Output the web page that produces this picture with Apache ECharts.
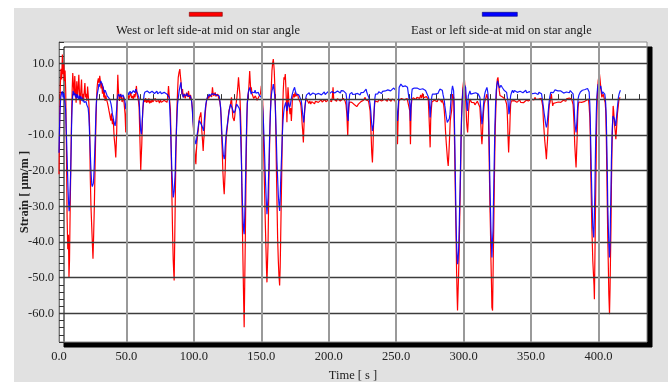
<!DOCTYPE html>
<html>
<head>
<meta charset="utf-8">
<title>Strain at mid on star angle</title>
<script src="https://cdn.jsdelivr.net/npm/echarts@6/dist/echarts.min.js"></script>
<style>
  html, body { margin: 0; padding: 0; background: #ffffff; }
  #chart { width: 668px; height: 382px; }
</style>
</head>
<body>
<div id="chart"></div>
<script>
// Series labels
const seriesNames = ['West or left side-at mid on star angle', 'East or left side-at mid on star angle'];
const seriesColors = ['#ff0000', '#0000ff'];

// Axis ranges and tick label values
const timeRange = [0, 436];
const strainRange = [-68, 16];
const timeLabelValues = [0, 50, 100, 150, 200, 250, 300, 350, 400];
const strainLabelValues = [10, 0, -10, -20, -30, -40, -50, -60];

// West side strain [time s, strain µm/m]
const westStrain = [
[0,-21],[0.5,-6],[1,4],[1.5,8.5],[2,5.5],[2.5,12.5],[3,7],[3.5,10],[4,5],[4.5,8],[5,2],[5.5,-14],[6,-33],[6.5,-42],[7,-38],[7.4,-49.8],[7.8,-45],[8.3,-30],[8.8,-18],[9.3,-5],[9.8,3],[10.2,7.3],[10.7,4],[11.2,1],[11.7,6.5],[12.2,2],[12.7,-1],[13.2,5],[13.7,0.5],[14.2,3],[14.7,6.8],[15.2,1.5],[15.7,-1.5],[16.2,2.5],[16.7,5.5],[17.2,0],[17.7,1.5],[18.2,-0.5],[18.7,2],[19.2,4.5],[19.7,0.5],[20.2,1.5],[20.7,-0.5],[21.2,3.5],[21.7,1],[22.2,-1.5],[22.7,-8],[23.2,-22],[23.7,-30],[24.2,-35],[24.7,-40],[25.2,-44.7],[25.7,-38],[26.2,-30],[26.7,-20],[27.2,-10],[27.7,-2],[28.2,3],[28.7,5],[29.2,5.8],[29.7,4.5],
[30.2,6.5],[30.7,5],[31.2,3],[31.7,4.5],[32.2,1.5],[32.7,3.5],[33.2,0.5],[33.7,2],[34.2,-0.5],[34.7,1],[35.2,0],[35.9,-1],[36.5,-2],[37.1,-3.3],[37.7,-4.5],[38.4,-6],[39,-4],[39.6,-7],[40.2,-5.5],[40.9,-10.7],[41.5,-13],[42.1,-16.3],[42.8,-9],[43.2,1],[43.6,6.8],[44,3],[44.3,1.4],[44.8,-0.5],[45.3,0],[45.8,1.5],[46.3,1],[46.8,-0.8],[47.3,-0.5],[47.8,0.8],[48.3,0.5],[49,-4.2],[49.5,-9.3],[49.9,-4],[50.2,-1.4],[50.7,0.5],[51.2,1.4],[51.7,0],[52.2,0.5],[52.7,-0.5],[53.2,1.8],[53.8,0.3],[54.5,0.9],[55.1,-0.2],[55.7,1.4],[56.3,0.5],[56.9,1.8],[57.4,3.7],[57.9,1.2],[58.4,0.9],[58.9,-0.5],[59.4,-2.3],[59.8,-8],[60.1,-12.5],[60.6,-20],[61,-16],[61.4,-12.5],[61.8,-6],[62.1,-3.3],[62.6,-1],[63.1,0],[63.6,-0.8],[64.2,0.3],[64.8,-1],[65.4,-0.3],[66,-0.9],[66.6,0.2],[67.2,-1.2],[67.8,-0.4],[68.4,-1],[69,0],[69.6,-0.8],[70.2,-0.3],[70.8,-1.1],[71.4,0.2],[72,-0.7],[72.6,-0.2],[73.2,-1],
[73.8,-0.4],[74.5,-1.1],[75.2,-0.2],[75.9,-0.9],[76.6,-0.4],[77.3,-1.2],[78,-0.3],[78.7,-0.8],[79.4,-0.1],[80.1,-0.9],[80.7,0.8],[81.2,3.7],[81.7,1],[82.2,0.5],[82.6,-3],[82.9,-8],[83.3,-17],[83.7,-26.6],[84.2,-37],[84.7,-45.2],[85.1,-48.5],[85.4,-50.8],[85.9,-37],[86.3,-26],[86.6,-17.3],[87,-9],[87.4,-3.3],[87.9,2],[88.4,6],[89,7.5],[89.6,8.4],[90,6.5],[90.4,5.1],[91.1,1.4],[91.6,2.8],[92.1,0.5],[92.6,1.5],[93.1,1.9],[93.6,0.2],[94.1,0.5],[94.6,1.8],[95.1,1.4],[95.6,0.6],[96,2.3],[96.5,1],[97,0],[97.5,1.2],[98,0.9],[98.5,-1],[99,-3.3],[99.5,-6.5],[100,-10.7],[100.5,-14],[101,-16.3],[101.5,-18.2],[101.8,-15],[102.2,-12.6],[102.7,-10],[103.2,-8.9],[103.7,-6.5],[104.2,-5.1],[104.7,-4.5],[105.2,-3.7],[105.6,-6],[105.9,-8.9],[106.4,-11.5],[106.9,-14.5],[107.3,-11.5],[107.7,-9.8],[108,-7],[108.4,-4.2],[108.9,-2],[109.4,-0.5],[109.9,0.3],[110.4,0.9],[110.9,0.2],[111.4,0.5],[112,1.2],[112.6,1.4],[113.2,0.6],[113.8,3.3],[114.3,1.5],[114.8,0.9],[115.3,1.2],[115.8,1.9],[116.3,0.8],[116.8,0.5],[117.3,1.3],[117.8,1.4],[118.3,0.4],[118.8,0.5],[119.3,-0.8],[119.8,-2.3],[120.2,-5],[120.5,-8.9],[121,-14],[121.5,-20.1],[122,-24],[122.5,-26.6],[122.9,-23],[123.2,-20.1],[123.6,-15],[124,-10.7],[124.5,-9],[125,-7],[125.5,-5],[126,-3.3],[126.5,-2.5],[127,-1.9],[127.5,-0.5],[127.9,0.5],[128.4,-2.5],[128.9,-5.1],[129.4,-5.5],[129.9,-6.1],[130.4,-4.5],[130.9,-2.3],[131.4,-1],[131.9,0.5],[132.5,3],[133.1,6.1],[133.6,3.5],[134.1,1.4],[134.5,-3],[134.9,-7.9],[135.3,-16],[135.6,-26.6],[136,-36],[136.4,-45.2],[136.9,-56],[137.3,-63.9],[137.7,-52],[138.1,-40.6],[138.5,-28],[138.8,-17.3],[139.2,-8],[139.6,-1.4],[140.1,1],[140.6,2.3],[141,5],[141.4,7.9],[141.8,5],[142.2,2.5],[142.6,3.3],[143.1,1.5],
[143.8,1.4],[144.4,0.2],[145,0],[145.6,0.9],[146.3,0.9],[146.9,-0.3],[147.5,-0.5],[148.1,0.6],[148.8,0.5],[149.4,1.5],[150,3.7],[150.5,1.2],[151,-0.5],[151.4,-5],[151.7,-12.6],[152.1,-20],[152.5,-26.6],[153,-35],[153.5,-42.4],[153.9,-48],[154.2,-51.3],[154.6,-46],[155,-40.6],[155.4,-30],[155.7,-21.9],[156.1,-14],[156.4,-7.9],[156.8,-3],[157.2,1.4],[157.6,5],[157.9,7.9],[158.4,10],[158.9,11.2],[159.3,9.5],[159.6,7.9],[160,4],[160.4,-1.4],[160.8,-9],[161.1,-17.3],[161.6,-28],[162.1,-38.7],[162.6,-45],[163.1,-49.5],[163.6,-52.2],[164,-47],[164.3,-40.6],[164.7,-31],[165.1,-21.9],[165.5,-12],[165.8,-3.3],[166.3,2.5],[166.8,6.1],[167.3,5.5],[167.8,7],[168.2,3.5],[168.5,0.5],[169,-6.5],[169.4,-1],[169.8,3.3],[170.2,1],[170.5,-1.4],[170.9,-3],[171.3,-4.2],[171.8,-2.5],[172.3,-6.1],[172.7,-3],[173,-0.5],[173.5,0.8],[174,1.4],[174.5,0.5],[175,1.9],[175.5,0.8],[176,0.5],[176.5,1.2],[177,1.4],[177.5,0.2],[177.9,0],[178.4,-0.2],[178.9,-0.9],[179.4,-1.8],[179.9,-4.2],[180.3,-7],[180.7,-8.9],[181.2,-12.1],[181.5,-9],[181.9,-5.1],[182.4,-2],[182.9,-0.5],[183.4,0.2],[183.9,0.5],
[184.6,-0.3],[185.3,-1.2],[186,-0.5],[186.7,-1.4],[187.4,-0.7],[188.1,-1],[188.8,-0.2],[189.5,-1.3],[190.2,-0.6],[190.9,-1.1],[191.6,-0.3],[192.3,-0.9],[193,-0.5],[193.7,-1.2],[194.4,-0.2],[195.1,-0.8],[195.8,-0.4],[196.5,-1],[197.2,-0.1],[197.9,-0.7],[198.6,-0.3],[199.3,-0.9],[200,-0.2],[200.7,-0.6],[201.4,0.1],[202.1,-0.7],[202.7,0.5],[203.2,3.3],[203.7,0],[204.4,-0.5],[205.1,0],[205.8,-0.6],[206.5,0.1],[207.2,-0.4],[207.9,0.2],[208.6,-0.5],[209.3,-0.1],[210,-0.4],[210.7,0.2],[211.4,-0.3],[212.1,-0.5],[212.8,-1.5],[213.4,-4],[214.1,-10.3],[214.5,-5],[214.9,-2.3],[215.4,-0.8],[215.9,-0.5],
[216.5,-0.9],[217.1,-0.9],[217.7,-1.3],[218.3,-1.4],[218.9,-1.5],[219.6,-1.9],[220.2,-1.6],[220.8,-2.1],[221.4,-1.7],[222,-1.4],[222.7,-1.2],[223.3,-0.9],[223.9,-0.7],[224.5,-0.5],[225.2,-0.6],[225.8,-0.3],[226.4,0.2],[227,0.5],[227.6,-0.2],[228.2,0],[228.9,-0.4],[229.5,-0.5],[230.1,-1],[230.7,-3.3],[231.1,-7],[231.5,-10.7],[231.9,-15],[232.4,-17.7],[232.9,-12.6],[233.3,-6],[233.7,-3.3],[234.1,-1.2],[234.4,-0.5],[235,-0.5],[235.7,-0.2],[236.4,-0.8],[237.1,-0.1],[237.8,-0.6],[238.5,0.1],[239.2,-0.5],[239.9,-0.2],[240.6,-0.7],[241.3,0],[242,-0.4],[242.7,-0.1],[243.4,-0.6],[244.1,0.1],[244.8,-0.3],[245.5,-0.2],[246.2,-0.6],[246.9,0],[247.6,-0.4],[248.3,-0.1],[249,-0.3],[249.6,-0.3],[250.1,-1.5],[250.5,-5],[251,-12.6],[251.5,-5],[252,-0.5],[252.5,0],[253.2,-0.2],[253.9,0.2],[254.6,-0.3],[255.3,0.1],[256,-0.2],[256.7,0.2],[257.4,-0.1],[258.1,0.2],[258.8,-0.3],[259.5,0],[260.1,-3.3],[260.6,-12.6],[261.1,-2.3],[261.6,-0.3],[261.9,0],[262.6,0.4],[263.3,0.2],[264,0.6],[264.7,-0.1],[265.4,0.5],[266.1,0.1],[266.8,0.8],[267.5,0.2],[268.2,1.2],[268.9,0.3],[269.6,1.6],[270.3,0.4],[271,0.9],[271.7,0.2],[272.4,0.7],[273.1,0.3],[273.8,0],[274.2,-3.3],[274.7,-8],[275.2,-13.5],[275.6,-6],[276,-3.3],[276.5,-0.8],[276.9,-0.3],[277.6,-0.6],[278.3,-0.3],[279,-0.5],[279.7,-0.2],[280.4,-0.7],
[281.2,0],[282,-0.4],[282.8,-0.2],[283.7,-0.9],[284.2,-0.3],[284.7,-0.5],[285.2,-1.5],[285.7,-3.3],[286.2,-6],[286.6,-8.9],[287.1,-12],[287.6,-14.5],[288.1,-17],[288.6,-18.7],[289,-16],[289.4,-12.6],[289.8,-9],[290.1,-6.1],[290.6,-4.5],[291.1,-3.3],[291.5,-1],[291.8,1.4],[292.2,1],[292.6,0.5],[293,-6],[293.3,-12.6],[293.7,-22],[294.1,-31.3],[294.5,-40],[294.8,-48],[295.2,-55],[295.5,-59.2],[295.9,-54],[296.3,-49],[296.7,-43],[297,-35.9],[297.4,-28],[297.8,-20.1],[298.1,-13],[298.5,-5.1],[299,0],[299.5,3.3],[300,5],[300.5,6.1],[301,3.5],[301.5,0.5],[301.9,-3],[302.2,-6.1],[302.6,-8],[303,-9.3],[303.4,-6.5],[303.7,-3.3],[304.2,-1.2],[304.7,0],[305.3,-0.5],[305.9,-0.9],[306.5,-1.3],[307.2,-1.4],[307.8,-1],[308.4,-1.6],[309,-1.1],[309.6,-1.2],[310.2,-0.6],[310.9,-0.7],[311.5,-1],[312.1,-2.3],[312.5,-5],[312.9,-7.9],[313.3,-11],[313.6,-12.6],[314,-10],[314.3,-7],[314.8,-3.5],[315.3,-1.4],[315.8,-0.6],[316.3,0],[316.8,0.8],[317.3,1.4],[317.7,0.5],[318.1,-0.5],[318.5,-6],[318.8,-12.6],[319.2,-22],[319.5,-29.4],[319.9,-36],[320.3,-45.2],[320.7,-52],[321,-58.3],[321.5,-59.2],[322,-45.2],[322.4,-35],[322.8,-23.8],[323.1,-16],[323.5,-7.9],[324,-2],[324.5,3.3],[325,5.5],[325.5,6.1],[326,4],[326.5,2.3],[327,1],[327.5,0.5],[328,1.2],[328.4,1.4],[328.9,0.6],[329.4,0.5],[330,0.1],[330.7,0],[331.3,-0.6],[331.9,-1.4],[332.3,-3],[332.7,-7],[333,-11],[333.4,-14.9],[333.8,-11],[334.2,-8.9],[334.5,-5],[334.9,-1.4],[335.5,-0.5],[336.1,-0.3],[336.8,-0.8],[337.5,-0.4],[338.1,-0.7],[338.8,-0.3],[339.5,-0.9],[340.2,-0.4],[340.9,-0.7],[341.6,-0.2],[342.3,-0.9],[343,-0.9],[343.7,-0.5],[344.4,-1],[345.1,-0.6],[345.8,-0.8],[346.5,-0.3],[347.2,-0.7],[348,-0.5],[348.7,-0.2],[349.4,-0.6],[350.1,0],[350.8,-0.3],[351.5,0.3],[352.2,-0.2],[352.9,0.5],[353.6,-0.1],[354.3,0.2],[355,-0.3],
[355.7,0],[356.3,-0.3],[357,0.5],[357.6,0.2],[358.2,-0.9],[358.7,-2],[359.2,-6.1],[359.7,-9],[360.2,-11.7],[360.8,-14],[361.4,-16.8],[361.8,-14],[362.2,-11.7],[362.7,-7],[363.2,-3.3],[363.6,-1.5],[364.1,-0.9],[364.6,0.5],[365.1,1.4],[365.6,-0.5],[366.1,-1.9],[366.6,-1.2],[367.1,-0.9],[367.7,-1.4],[368.3,-1],[368.9,-1.5],[369.6,-1.2],[370.2,-0.8],[370.8,-1.3],[371.5,-0.7],[372.1,-0.9],[372.7,-0.4],[373.3,-0.9],[373.9,-0.3],[374.5,-0.5],[375.1,-0.2],[375.8,-0.6],[376.4,0.1],[377,0],[377.6,-0.3],[378.3,0.3],[378.9,0],[379.5,0.5],[380.1,0],[380.7,0],[381.2,-1.5],[381.7,-5.1],[382.1,-9],[382.4,-12.6],[382.9,-16],[383.4,-19.1],[383.8,-15],[384.2,-10.7],[384.6,-5],[384.9,-2.3],[385.4,-0.8],[385.9,-0.5],[386.6,-1],[387.4,-0.9],[388.1,-0.5],[388.8,-1.1],[389.4,-0.7],[390.1,-0.4],[390.7,-0.8],[391.1,-0.3],[391.9,-0.1],[392.6,0],[393.1,-2],[393.6,-5.1],[394,-11],[394.3,-20.1],[394.7,-28],[395.1,-35.9],[395.5,-41],[395.8,-45.2],[396.3,-49],[396.7,-52],[397,-56],[397.5,-40.6],[397.9,-28],[398.3,-17.3],[398.6,-8],[399,-1.4],[399.4,3],[399.8,5.1],[400.2,6],[400.7,7.2],[401.2,5.5],[401.7,3.3],[402.1,1.8],[402.5,0.5],[403,0.9],[403.5,1.4],[404,0.6],[404.5,0.9],[405,-1],[405.4,-3.3],[405.8,-10],[406.2,-20.1],[406.5,-28],[406.9,-38.7],[407.3,-46],[407.7,-54.6],[408.2,-60.2],[408.6,-53],[408.9,-45.2],[409.3,-36],[409.6,-24.7],[410,-15],[410.4,-7.9],[410.9,-1.9],[411.2,-3],[411.6,-5.1],[412,-7.5],[412.4,-8.9],[412.9,-11.2],[413.3,-9],[413.6,-7],[414.1,-4],[414.6,-2.3],[415,-0.8],[415.3,0],[416.1,0.5]
];

// East side strain [time s, strain µm/m]
const eastStrain = [
[0,-15],[0.4,-8],[0.8,-3],[1.3,0.5],[1.8,1.5],[2.5,2.2],[3,0.5],[3.5,1.7],[4,0.2],[4.5,-1.1],[4.9,-3],[5.2,-6.7],[5.6,-11],[6,-16],[6.3,-20],[6.7,-25.3],[7.1,-29],[7.5,-31.4],[7.9,-30],[8.2,-26.3],[8.6,-21],[9,-14],[9.3,-8],[9.7,-2.4],[10.1,0.5],[10.5,2.3],[10.9,1.2],[11.2,0.9],[11.7,1.8],[12.2,0.5],[12.7,1.4],[13.2,0.2],[13.7,1.3],[14.2,0.9],[14.7,-0.2],[15.2,1],[15.7,0.1],[16.2,0.8],[16.7,-0.4],[17.2,0.4],[17.7,-0.6],[18.1,0.1],[18.6,-0.9],[19.1,-0.5],[19.6,-1.2],[20.1,-0.7],[20.6,-1.6],[21.1,-1.5],[21.6,-2.5],[22.1,-4.5],[22.5,-8],[22.8,-11.2],[23.2,-15],[23.6,-19],[24,-22],[24.3,-23.9],[24.7,-24.5],[25.1,-24.9],[25.5,-23.5],[25.8,-21.5],[26.2,-18],[26.6,-13.5],[27,-9],[27.3,-4.5],[27.7,-1],[28,0.5],[28.4,1.5],[28.8,2.3],[29.2,3],[29.5,4.2],
[30,3.5],[30.5,4.5],[31,5.1],[31.4,4.6],[31.7,5.6],[32.2,4],[32.7,3.3],[33.2,2.6],[33.7,1.9],[34.2,2.5],[34.7,2.3],[35.2,1.5],[35.7,0.9],[36.2,1.3],[36.6,0.5],[37.1,0.7],[37.6,0],[38.1,-0.5],[38.6,-1.4],[39.1,-2.5],[39.6,-4.2],[40.1,-5],[40.6,-6.1],[41.1,-6.8],[41.6,-7.5],[42,-6.5],[42.3,-5.1],[42.7,-3],[43.1,-0.5],[43.6,0.8],[44.1,1.4],[44.6,0.9],[45.1,0.7],[45.6,1.4],[46,1.4],[46.5,0.6],[47,0.5],[47.5,1.2],[48,0.9],[48.4,0.2],[48.8,-0.5],[49.2,-1.8],[49.5,-2.8],[49.9,-1.5],[50.2,-0.5],[50.7,1.2],[51.2,1.9],[51.7,1.2],[52.2,1.4],[52.7,2.2],[53.2,2.3],[53.8,1.6],[54.5,1.9],[55.1,2.4],[55.7,2.1],[56.3,1.8],[56.9,2.8],[57.5,2.2],[58.2,1.6],[58.7,1.2],[59.2,0.5],[59.6,-1.5],[59.9,-4.2],[60.3,-7],[60.6,-8.9],[61.1,-9.8],[61.5,-8],[61.9,-5.1],[62.2,-2.5],[62.6,-0.5],[63.1,1.2],[63.6,1.9],[64.2,2.2],[64.8,1.6],[65.4,2.3],[66,1.8],[66.6,2.4],[67.2,1.7],[67.8,2.1],[68.4,1.5],[69,2.2],[69.6,1.8],[70.2,2.3],[70.8,1.6],[71.4,2.1],[72,1.7],[72.6,2.2],[73.2,1.5],
[73.8,2],[74.5,1.6],[75.2,2.1],[75.9,1.5],[76.6,2],[77.3,1.4],[78,1.9],[78.7,1.5],[79.4,2],[80.1,1.4],[80.5,1.4],[81.1,1.2],[81.7,0.5],[82.2,-3],[82.7,-7.9],[83.2,-14],[83.7,-20.1],[84.2,-24],[84.7,-27.5],[85.1,-27],[85.4,-25.7],[85.8,-23],[86.2,-20.1],[86.5,-15],[86.9,-10.7],[87.4,-6],[87.9,-1.4],[88.5,0.5],[89.1,2.3],[89.7,3.5],[90.4,4.7],[90.8,3],[91.3,1.4],[91.8,1],[92.3,0.5],[92.8,1.4],[93.3,1.9],[93.8,1],[94.3,0.9],[94.8,1.6],[95.3,1.4],[95.8,0.8],[96.3,0.5],[96.8,1.1],[97.3,0.9],[97.8,0.3],[98.3,-0.5],[98.8,-2.5],[99.3,-6.1],[99.9,-8.5],[100.5,-10.7],[101,-11.8],[101.5,-12.6],[102,-11.5],[102.5,-9.8],[103,-8.5],[103.5,-7],[104,-6],[104.5,-5.6],[105,-6.2],[105.4,-7],[105.9,-7.5],[106.4,-7.9],[106.8,-8.4],[107.2,-8.9],[107.5,-7.5],[107.9,-5.1],[108.4,-3],[108.9,-1.4],[109.5,-0.2],[110.1,0.5],[110.7,1],[111.4,1.4],[112,0.8],[112.6,0.9],[113.2,1.5],[113.8,1.9],[114.4,1.2],[115.1,1.4],[115.7,1.8],[116.3,1.9],[116.9,1.2],[117.6,1.4],[118.2,1.1],[118.8,0.9],[119.3,-0.5],[119.8,-2.3],[120.3,-5.5],[120.8,-9.8],[121.3,-13],[121.8,-15.4],[122.5,-16.8],[122.9,-16],[123.2,-13.5],[123.7,-11],[124.2,-8.9],[124.7,-7.5],[125.2,-6.1],[125.7,-4.7],[126.2,-3.3],[126.7,-2.2],[127.2,-1.4],[127.7,-1.6],[128.2,-2.3],[128.7,-2.9],[129.2,-3.3],[129.7,-3.9],[130.2,-4.2],[130.7,-3.2],[131.2,-2.3],[131.7,-1.4],[132.1,-0.9],[132.6,-1.2],[133.1,-1.4],[133.6,-2.5],[134.1,-3.3],[134.5,-7],[134.9,-12.6],[135.3,-18],[135.6,-23.8],[136.1,-30],[136.6,-35],[137,-37],[137.3,-37.8],[137.7,-33],[138.1,-26.6],[138.5,-19],[138.8,-12.6],[139.2,-6],[139.6,-1.4],[140.1,1],[140.6,2.3],[141.1,2.8],[141.5,3.3],[142,2.2],[142.5,1.4],
[143,2],[143.6,1.6],[144.2,2.4],[144.8,1.8],[145.4,2.5],[146,1.7],[146.6,2.2],[147.2,1.5],[147.8,1.9],[148.4,1.2],[149,1.5],[149.5,0.8],[150,0.5],[150.6,-0.5],[151.2,-3.3],[151.7,-7.5],[152.2,-12.6],[152.7,-18.5],[153.2,-23.8],[153.7,-28.5],[154.2,-32.2],[154.6,-30],[155,-27.5],[155.3,-23],[155.7,-18.2],[156,-13],[156.4,-7.9],[156.8,-3.5],[157.2,-0.5],[157.5,1.2],[157.9,2.3],[158.4,3],[158.9,4.2],[159.4,2.8],[159.9,1.4],[160.4,-2],[160.9,-7.9],[161.2,-12],[161.6,-17.3],[162.1,-22],[162.6,-26.7],[163.1,-29.5],[163.6,-31.3],[164,-28],[164.3,-23.8],[164.7,-19.5],[165.1,-15.4],[165.6,-10],[166.1,-6.1],[166.6,-3.8],[167.1,-2.3],[167.6,-1.6],[168.1,-0.9],[168.6,-2.2],[169,-3.3],[169.5,-2],[170,-0.9],[170.5,-1.6],[171,-2.3],[171.5,-1.7],[172,-0.5],[172.5,0.6],[173,1.4],[173.8,2.5],[174.7,3.3],[175.3,2.2],[176,1.4],[176.6,1.8],[177.2,1.9],[177.8,1.2],[178.4,1.4],[179,0.8],[179.7,-0.5],[180.2,-2.3],[180.7,-4.2],[181.1,-5.5],[181.4,-6.5],[181.8,-5],[182.1,-3.3],[182.6,-1.5],[183.1,0.5],[183.6,1.2],[184.1,1.4],
[184.8,1.2],[185.5,1.8],[186.2,1.1],[186.9,1.6],[187.6,1],[188.3,1.7],[189,1.2],[189.7,1.9],[190.4,1.3],[191.1,1.8],[191.8,1.1],[192.5,1.6],[193.2,1.3],[193.9,1.9],[194.6,1.2],[195.3,1.7],[196,1.4],[196.7,2],[197.4,1.3],[198.1,1.8],[198.8,1.5],[199.5,2.1],[200.2,1.4],[200.9,1.9],[201.6,1.5],[202.3,2.1],[203,1.6],[203.7,2.2],[204.4,1.7],[205.1,2.1],[205.8,1.6],[206.5,2.3],[207.2,1.8],[207.9,2.2],[208.6,1.7],[209.3,2.4],[210,1.9],[210.9,2.3],[211.6,2],[212.2,2.3],[212.8,1.6],[213.2,0.5],[213.6,-2.5],[213.9,-4.7],[214.4,-6.1],[214.7,-3.5],[214.9,-1.4],[215.3,0.5],[215.6,1.4],
[216.3,1.6],[217.1,1.9],[217.7,1.3],[218.3,1.2],[219,1.7],[219.6,1.4],[220.2,1],[220.8,1.2],[221.4,1.6],[222,1.6],[222.7,1.1],[223.3,1.2],[223.9,1.8],[224.5,1.9],[225.2,1.5],[225.8,1.9],[226.4,2.2],[227,2.3],[227.7,2.8],[228.2,2],[228.7,1.4],[229.2,1],[229.7,0.5],[230.2,-0.3],[230.7,-1.4],[231.2,-3.5],[231.7,-6.1],[232.1,-7.8],[232.4,-8.9],[232.8,-8],[233.2,-7],[233.6,-4],[233.9,-1.4],[234.3,0.5],[234.7,1.4],[235.2,1.8],[235.7,1.9],[236.4,1.5],[237.1,2.1],[237.8,1.7],[238.5,2],[239.2,1.6],[239.9,2.2],[240.6,2.1],[241.3,1.8],[242,2.3],[242.7,1.9],[243.1,2.3],[243.8,2.6],[244.5,2.1],[245.2,2.5],[245.9,2.3],[246.6,2.8],[247.3,2.6],[248,3.1],[248.7,3],[249.3,3.5],[249.8,2.5],[250.2,-1],[250.6,-4.5],[251,-6.1],[251.4,-3.5],[251.8,-0.5],[252.2,3.3],[252.8,3.6],[253.5,4.2],[254.2,3.7],[254.9,3.5],[255.6,3.9],[256.3,3.6],[256.9,3.7],[257.6,3.4],[258.4,3.3],[259,3.1],[259.6,2.8],[260.1,-1.4],[260.6,-6.1],[261.1,-1.4],[261.5,1.5],[261.9,2.8],[262.6,2.6],[263.4,3.1],[264.1,3],[264.8,2.7],[265.5,3.1],[266.2,2.6],[266.9,3],[267.6,2.7],[268.3,3.1],[269,2.6],[269.7,2.9],[270.4,2.4],[271.1,2.8],[271.8,2.4],[272.5,2.7],[273.1,2.2],[273.5,2.3],[274,0.5],[274.5,-0.5],[274.9,-3],[275.2,-5.1],[275.6,-2.8],[276,-0.5],[276.5,0.8],[276.9,1.4],[277.6,1.6],[278.3,1.2],[278.9,1.4],[279.6,1.8],[280.3,1.3],[281,1.6],
[281.7,2.2],[282.4,2.8],[283,2.4],[283.7,3.3],[284.2,2.5],[284.7,1.4],[285.2,1],[285.7,-0.5],[286.1,-1.9],[286.6,-3.3],[287.2,-5],[287.9,-6.5],[288.4,-6.8],[288.9,-7],[289.4,-5.5],[289.9,-4.2],[290.4,-1.5],[290.8,0.5],[291.3,2.5],[291.8,3.7],[292.2,3.2],[292.6,2.3],[293,-1],[293.3,-7.9],[293.7,-17],[294.1,-26.6],[294.4,-34],[294.8,-40.6],[295.2,-44],[295.5,-46.2],[295.9,-45],[296.3,-42.4],[296.7,-37],[297,-31.3],[297.4,-25],[297.8,-17.3],[298.1,-11],[298.5,-5.1],[299,-0.5],[299.5,2.3],[300,3.5],[300.5,4.2],[301,3.8],[301.5,3.3],[302,0.5],[302.5,-2.5],[302.9,-3.3],[303.5,0.9],[304.1,1.6],[304.7,2.3],[305.3,1.4],[305.9,1.4],[306.5,1.9],[307.2,1.6],[307.8,1.2],[308.4,1.4],[309,1.8],[309.6,1.9],[310.2,1.3],[310.9,1.4],[311.5,1.1],[312.1,0.5],[312.5,-1.5],[312.9,-3.3],[313.3,-5.5],[313.6,-7],[314,-6],[314.3,-4.2],[314.8,-1.5],[315.3,0.5],[315.8,1.6],[316.3,2.3],[316.8,2.8],[317.3,3.3],[317.7,2.5],[318.1,1.4],[318.5,-2],[318.8,-7.9],[319.2,-16],[319.5,-23.8],[319.9,-30],[320.3,-36.8],[320.7,-41],[321,-44.3],[321.4,-40],[321.8,-36.8],[322.1,-30.5],[322.5,-21.9],[322.9,-14],[323.2,-7.9],[323.7,-1.5],[324.2,2.3],[324.7,4],[325.2,5.1],[325.7,4.3],[326.2,3.7],[326.7,3.1],[327.2,3.3],[327.7,3.9],[328.2,3.7],[328.8,3.2],[329.4,2.8],[330,2.5],[330.7,2.3],[331.3,2.1],[331.9,1.9],[332.4,0.5],[332.9,-0.5],[333.3,-2.5],[333.6,-4.2],[334,-3.5],[334.4,-0.9],[334.9,1],[335.6,1.9],[336.3,2.5],[337,1.8],[337.7,2.4],[338.4,2.1],[339.1,2.6],[339.8,1.9],[340.5,2.4],[341.2,1.8],[341.9,2.2],[342.6,1.7],[343.3,2.2],[344,1.8],[344.7,2.3],[345.4,2.1],[346.1,2.5],[346.8,1.8],[347.5,2.2],[348.2,1.7],[348.9,2.1],[349.6,1.6],[350.3,2],[351,1.5],[351.7,1.8],[352.4,1.3],[353.1,1.7],[353.8,1.4],[354.5,1.8],[355.2,1.3],
[355.9,1.9],[356.6,1.6],[357.2,2.3],[357.8,1.5],[358.2,0.5],[358.7,-0.8],[359.2,-2.3],[359.7,-3.8],[360.2,-5.1],[360.8,-6.8],[361.4,-7.9],[361.9,-7],[362.4,-5.1],[362.9,-3],[363.4,-0.9],[364,0.8],[364.6,1.9],[365.2,2.4],[365.9,2.3],[366.5,1.8],[367.1,2.1],[367.8,2.6],[368.5,2.1],[369.2,2.7],[369.9,2.3],[370.6,2.8],[371.3,2.2],[372.1,2.3],[372.8,1.8],[373.5,2.2],[374.2,1.7],[374.9,2.1],[375.6,1.6],[376.3,2],[377,1.6],[377.7,2.1],[378.4,1.8],[379.1,2.4],[379.7,2.3],[380.3,2.8],[380.7,2.8],[381.2,1.5],[381.7,-0.5],[382.1,-3],[382.4,-6.1],[382.9,-8],[383.4,-9.3],[383.8,-7.5],[384.2,-5.1],[384.6,-2],[384.9,0],[385.4,1],[385.9,1.4],[386.6,2],[387.4,1.9],[388.1,2.5],[388.8,2.1],[389.4,2.3],[390.1,2.7],[390.7,2.5],[391.1,2.8],[391.9,3],[392.6,3.3],[393.1,2],[393.6,-1.4],[393.9,-5],[394.3,-12.6],[394.7,-20],[395.1,-26.6],[395.5,-32],[395.8,-35.9],[396.2,-37.5],[396.5,-38.7],[396.9,-34],[397.3,-26.6],[397.6,-19],[398,-10.5],[398.4,-4],[398.8,0.5],[399.3,3],[399.8,4.2],[400.2,3.5],[400.7,2.8],[401.2,3.3],[401.7,3.7],[402.2,2.5],[402.7,1.4],[403.2,2],[403.7,2.3],[404.2,1.6],[404.7,1.4],[405,0.5],[405.4,-1.4],[405.8,-5],[406.2,-12.6],[406.6,-21],[406.9,-29.4],[407.3,-35.5],[407.7,-40.6],[408.2,-44.3],[408.6,-41],[408.9,-33.1],[409.3,-25],[409.6,-17.3],[410,-11],[410.4,-7],[410.8,-4.7],[411.1,-4.2],[411.5,-5.1],[411.9,-5.6],[412.3,-6.5],[412.6,-7.5],[413,-6.8],[413.4,-5.1],[413.9,-3],[414.3,-1.4],[414.8,0.5],[415.3,1.4],[415.8,2],[416.3,2.5]
];

const serif = '"Liberation Serif", "DejaVu Serif", serif';
const chart = echarts.init(document.getElementById('chart'), null, { renderer: 'canvas' });

// Horizontal grid lines at labelled strains, vertical ones at labelled times
const hLines = strainLabelValues.map(v => ({ yAxis: v }));
const vLines = timeLabelValues.filter(v => v > timeRange[0]).map(v => ({
  xAxis: v,
  lineStyle: { type: 'solid', color: '#9a9a9a', width: 2 }
}));

chart.setOption({
  animation: false,
  backgroundColor: '#ffffff',
  graphic: [
    { type: 'rect', z: -10, left: 14, top: 8, shape: { width: 654, height: 374 }, style: { fill: '#e1e1e1' } },
    { type: 'rect', left: 189, top: 12, shape: { width: 33, height: 4 }, style: { fill: seriesColors[0], stroke: '#7a0000', lineWidth: 0.6 } },
    { type: 'text', left: 116, top: 24, style: { text: seriesNames[0], font: '12.5px ' + serif, fill: '#222' } },
    { type: 'rect', left: 482, top: 12, shape: { width: 35, height: 4 }, style: { fill: seriesColors[1], stroke: '#00007a', lineWidth: 0.6 } },
    { type: 'text', left: 411, top: 24, style: { text: seriesNames[1], font: '12.5px ' + serif, fill: '#222' } }
  ],
  grid: {
    left: 59, top: 42, right: 21, bottom: 40,
    containLabel: false,
    outerBoundsMode: 'none',
    show: true,
    backgroundColor: '#ffffff',
    borderColor: '#8c8c8c',
    borderWidth: 1,
    shadowColor: '#000000',
    shadowBlur: 0,
    shadowOffsetX: 5,
    shadowOffsetY: 5
  },
  xAxis: {
    type: 'value',
    min: timeRange[0], max: timeRange[1], interval: 10,
    name: 'Time [ s ]', nameLocation: 'middle', nameGap: 27, nameMoveOverlap: false,
    nameTextStyle: { fontFamily: serif, fontSize: 12.5, color: '#222' },
    axisLine: { show: false },
    axisTick: { show: true, inside: true, length: 5, lineStyle: { color: '#333', width: 1 } },
    axisLabel: {
      margin: 8, fontFamily: serif, fontSize: 12.5, color: '#222',
      showMaxLabel: false,
      formatter: v => (timeLabelValues.includes(v) ? v.toFixed(1) : '')
    },
    splitLine: { show: false }
  },
  yAxis: {
    type: 'value',
    min: strainRange[0], max: strainRange[1], interval: 2,
    name: 'Strain [ µm/m ]', nameLocation: 'middle', nameGap: 34, nameRotate: 90, nameMoveOverlap: false,
    nameTextStyle: { fontFamily: serif, fontSize: 12.5, fontWeight: 'bold', color: '#222', verticalAlign: 'middle' },
    axisLine: { show: true, lineStyle: { color: '#777', width: 1 } },
    axisTick: { show: true, inside: true, length: 5, lineStyle: { color: '#333', width: 1 } },
    axisLabel: {
      margin: 5, fontFamily: serif, fontSize: 12.5, color: '#222',
      formatter: v => (strainLabelValues.includes(v) ? v.toFixed(1) : '')
    },
    splitLine: { show: false }
  },
  series: [
    {
      name: 'gridlines', type: 'line', data: [], z: 1, silent: true,
      markLine: {
        silent: true, symbol: 'none', animation: false,
        label: { show: false },
        lineStyle: { type: 'solid', color: '#3c3c3c', width: 1.3 },
        data: hLines.concat(vLines)
      }
    },
    {
      name: seriesNames[0], type: 'line', data: westStrain, z: 3,
      showSymbol: false, symbol: 'none', sampling: null,
      lineStyle: { color: seriesColors[0], width: 1.2 }
    },
    {
      name: seriesNames[1], type: 'line', data: eastStrain, z: 4,
      showSymbol: false, symbol: 'none', sampling: null,
      lineStyle: { color: seriesColors[1], width: 1.2, opacity: 0.9 }
    }
  ]
});
</script>
</body>
</html>
